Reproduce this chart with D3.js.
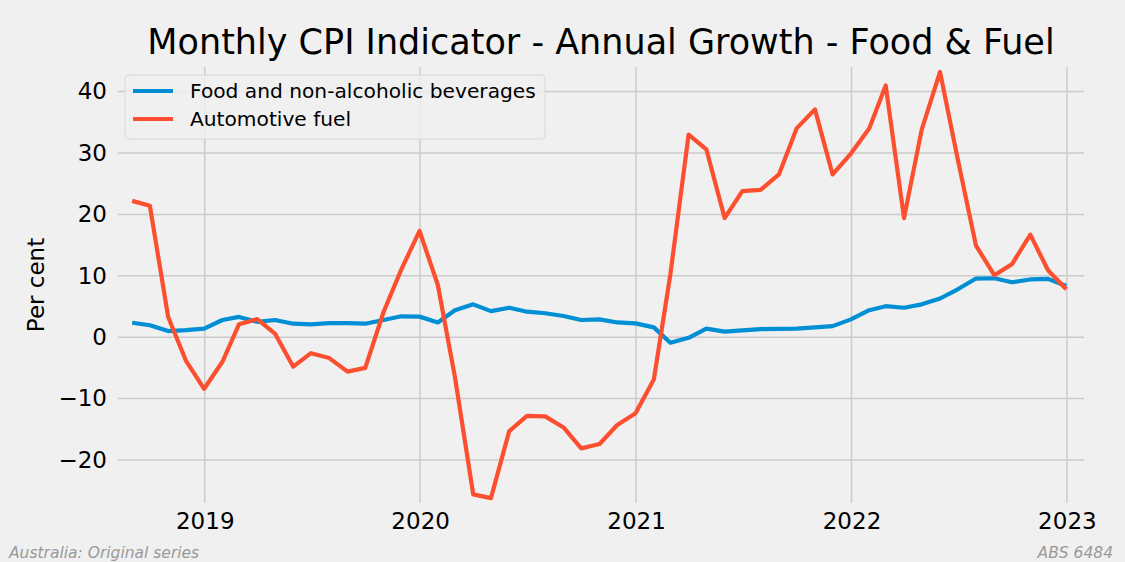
<!DOCTYPE html>
<html>
<head>
<meta charset="utf-8">
<script src="https://cdn.jsdelivr.net/npm/d3@7"></script>
<style>
  body { margin: 0; background: #f0f0f0; }
  text { font-family: "DejaVu Sans", sans-serif; }
</style>
</head>
<body>
<div id="chart"></div>
<script>
// monthly series, Aug 2018 to Dec 2022 (plotted at month end)
var firstMonth = "2018-08";
var monthCount = 53;

var foodValues = [
    2.35, 1.95, 1.0, 1.15, 1.4, 2.8, 3.3, 2.5, 2.8, 2.2,
    2.1, 2.3, 2.3, 2.2, 2.8, 3.4, 3.35, 2.4, 4.4, 5.35,
    4.25, 4.8, 4.15, 3.9, 3.45, 2.8, 2.9, 2.4, 2.25, 1.6,
    -0.9, -0.1, 1.4, 0.9, 1.1, 1.3, 1.35, 1.4, 1.6, 1.8,
    2.9, 4.4, 5.05, 4.8, 5.35, 6.3, 7.8, 9.55, 9.6, 8.95,
    9.4, 9.5, 8.35
];

var fuelValues = [
    22.2, 21.4, 3.3, -3.8, -8.4, -4.0, 2.1, 2.95, 0.6, -4.8,
    -2.6, -3.4, -5.6, -5.0, 4.1, 11.0, 17.3, 8.5, -6.5, -25.6,
    -26.2, -15.3, -12.8, -12.9, -14.7, -18.1, -17.4, -14.3, -12.4, -6.9,
    10.2, 33.0, 30.6, 19.4, 23.8, 24.0, 26.5, 34.0, 37.1, 26.5,
    29.9, 34.0, 41.0, 19.4, 33.8, 43.2, 29.0, 14.9, 10.1, 11.9,
    16.7, 10.9, 7.8
];

var seriesNames = ["Food and non-alcoholic beverages", "Automotive fuel"];
var seriesColors = ["#008fd5", "#fc4f30"];

var yTicks = [-20, -10, 0, 10, 20, 30, 40];
var xTickYears = [2019, 2020, 2021, 2022, 2023];

var svgWidth = 1125;
var svgHeight = 562;

var margin = { top: 67, bottom: 59, left: 118, right: 41 };
var width = svgWidth - margin.left - margin.right;
var height = svgHeight - margin.top - margin.bottom;

// month-end dates
var start = d3.timeParse("%Y-%m")(firstMonth);
var dates = d3.range(monthCount).map(function (i) {
    return d3.timeDay.offset(d3.timeMonth.offset(start, i + 1), -1);
});

var svg = d3.select("#chart")
    .append("svg")
    .attr("width", svgWidth)
    .attr("height", svgHeight)
    .style("background", "#f0f0f0");

var chartGroup = svg.append("g")
    .attr("transform", `translate(${margin.left}, ${margin.top})`);

var xScale = d3.scaleTime()
    .domain([new Date(2018, 7, 7), new Date(2023, 0, 30)])
    .range([0, width]);

var yScale = d3.scaleLinear()
    .domain([-27, 44])
    .range([height, 0]);

// grid lines
chartGroup.append("g")
    .selectAll("line")
    .data(yTicks)
    .enter()
    .append("line")
    .attr("x1", 0)
    .attr("x2", width)
    .attr("y1", d => yScale(d))
    .attr("y2", d => yScale(d))
    .attr("stroke", "#cbcbcb")
    .attr("stroke-width", 1.5);

chartGroup.append("g")
    .selectAll("line")
    .data(xTickYears)
    .enter()
    .append("line")
    .attr("x1", d => xScale(new Date(d, 0, 1)))
    .attr("x2", d => xScale(new Date(d, 0, 1)))
    .attr("y1", 0)
    .attr("y2", height)
    .attr("stroke", "#cbcbcb")
    .attr("stroke-width", 1.5);

// axes (tick labels only)
var leftAxis = d3.axisLeft(yScale).tickValues(yTicks).tickSize(0).tickPadding(11);
var bottomAxis = d3.axisBottom(xScale)
    .tickValues(xTickYears.map(y => new Date(y, 0, 1)))
    .tickFormat(d3.timeFormat("%Y"))
    .tickSize(0)
    .tickPadding(10);

var yAxis = chartGroup.append("g").call(leftAxis);
var xAxis = chartGroup.append("g")
    .attr("transform", `translate(0, ${height})`)
    .call(bottomAxis);

[yAxis, xAxis].forEach(function (ax) {
    ax.select(".domain").remove();
    ax.selectAll("text")
        .attr("font-family", "DejaVu Sans")
        .attr("font-size", "23px")
        .attr("fill", "#000");
});

// lines
var line = d3.line()
    .x((d, i) => xScale(dates[i]))
    .y(d => yScale(d));

[foodValues, fuelValues].forEach(function (vals, k) {
    chartGroup.append("path")
        .datum(vals)
        .attr("d", line)
        .attr("fill", "none")
        .attr("stroke", seriesColors[k])
        .attr("stroke-width", 4.2)
        .attr("stroke-linejoin", "round");
});

// legend
var legend = svg.append("g").attr("transform", "translate(125, 75)");
legend.append("rect")
    .attr("width", 420)
    .attr("height", 64)
    .attr("rx", 4)
    .attr("fill", "#f0f0f0")
    .attr("fill-opacity", 0.8)
    .attr("stroke", "#d8d8d8")
    .attr("stroke-width", 1);

seriesNames.forEach(function (name, k) {
    var ly = 16 + k * 28;
    legend.append("line")
        .attr("x1", 8)
        .attr("x2", 48)
        .attr("y1", ly)
        .attr("y2", ly)
        .attr("stroke", seriesColors[k])
        .attr("stroke-width", 4.2);
    legend.append("text")
        .attr("x", 65)
        .attr("y", ly)
        .attr("dy", "0.36em")
        .attr("font-size", "20.2px")
        .attr("fill", "#000")
        .text(name);
});

// title and labels
svg.append("text")
    .attr("x", margin.left + width / 2)
    .attr("y", 54)
    .attr("text-anchor", "middle")
    .attr("font-size", "35px")
    .attr("fill", "#000")
    .text("Monthly CPI Indicator - Annual Growth - Food & Fuel");

svg.append("text")
    .attr("transform", `translate(44, ${margin.top + height / 2}) rotate(-90)`)
    .attr("text-anchor", "middle")
    .attr("font-size", "23px")
    .attr("fill", "#000")
    .text("Per cent");

svg.append("text")
    .attr("x", 9)
    .attr("y", 558)
    .attr("font-size", "15.5px")
    .attr("font-style", "italic")
    .attr("fill", "#999")
    .text("Australia: Original series");

svg.append("text")
    .attr("x", 1113)
    .attr("y", 558)
    .attr("text-anchor", "end")
    .attr("font-size", "15.5px")
    .attr("font-style", "italic")
    .attr("fill", "#999")
    .text("ABS 6484");
</script>
</body>
</html>
